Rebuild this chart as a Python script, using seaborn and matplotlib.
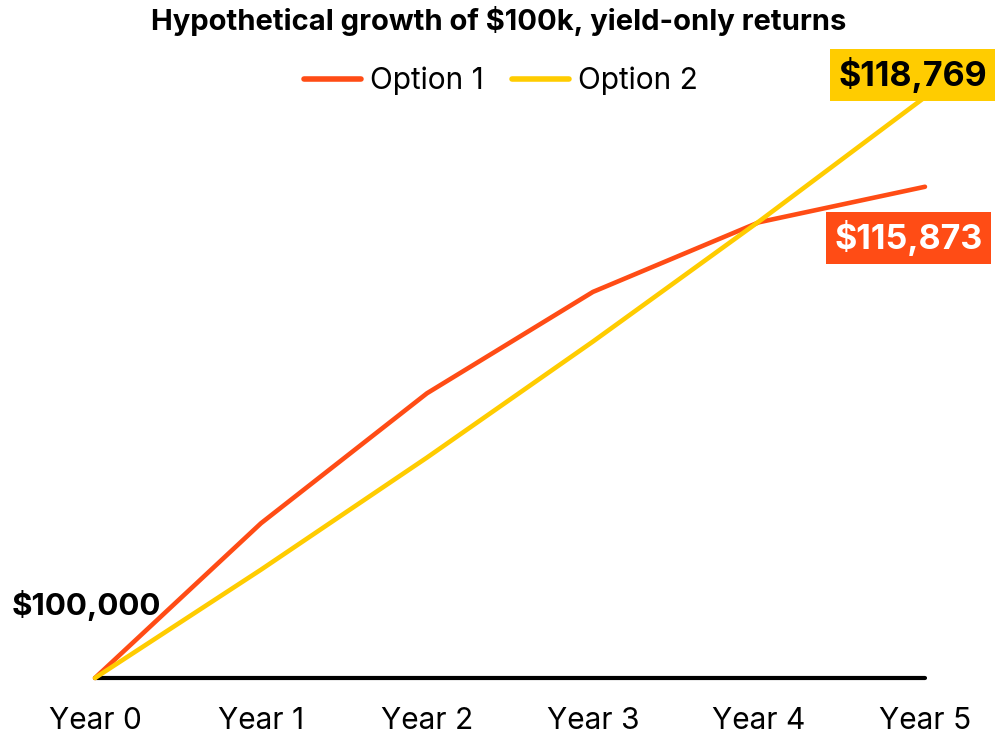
import numpy as np
import pandas as pd
import matplotlib
matplotlib.use("Agg")
import matplotlib.pyplot as plt
import seaborn as sns

years = ["Year 0", "Year 1", "Year 2", "Year 3", "Year 4", "Year 5"]
option1 = [100000, 105000, 109200, 112476, 114726, 115873]
option2 = [100000, 103500, 107123, 110872, 114752, 118769]
series_names = ["Option 1", "Option 2"]
colors = {"Option 1": "#FF4C15", "Option 2": "#FFCC00"}

df = pd.DataFrame({"step": list(range(len(years))) * 2,
                   "value": option1 + option2,
                   "series": [series_names[0]] * len(years) + [series_names[1]] * len(years)})

sns.set_theme(style="white")
plt.rcParams['font.family'] = ['Inter', 'DejaVu Sans']
plt.rcParams['text.color'] = 'black'
plt.rcParams['xtick.color'] = 'black'

fig = plt.figure(figsize=(10.03, 7.38), dpi=100)
ax = fig.add_axes([0.0947, 0.0813, 0.8275, 0.8387])

sns.lineplot(data=df, x="step", y="value", hue="series", palette=colors,
             linewidth=3.3, ax=ax, legend=True, clip_on=False)

ax.set_xlim(0, 5)
ax.set_ylim(100000, 120000)
ax.axhline(100000, color="black", linewidth=3, zorder=1, clip_on=False)
for s in ax.spines.values():
    s.set_visible(False)
ax.set_yticks([])
ax.set_xticks(range(len(years)))
ax.set_xticklabels(years, fontsize=21.5)
ax.tick_params(axis="x", length=0, pad=21)
ax.set_xlabel("")
ax.set_ylabel("")

leg = ax.legend(loc="center", bbox_to_anchor=(0.4995, 0.89), bbox_transform=fig.transFigure,
                ncol=2, frameon=False, fontsize=21.5, handlelength=1.9,
                handletextpad=0.3, columnspacing=0.95)
for line in leg.get_lines():
    line.set_linewidth(4)
    line.set_solid_capstyle("round")

fig.text(0.497, 0.972, "Hypothetical growth of $100k, yield-only returns",
         ha="center", va="center", fontsize=21, fontweight="bold")

ax.annotate(f"${option2[-1]:,}", xy=(5, option2[-1]), xytext=(-9, 16),
            textcoords="offset points", ha="center", va="center",
            fontsize=24.5, fontweight="bold", color="black",
            bbox=dict(boxstyle="square,pad=0.24", fc=colors["Option 2"], ec="none"))
ax.annotate(f"${option1[-1]:,}", xy=(5, option1[-1]), xytext=(-12, -37),
            textcoords="offset points", ha="center", va="center",
            fontsize=24.5, fontweight="bold", color="white",
            bbox=dict(boxstyle="square,pad=0.24", fc=colors["Option 1"], ec="none"))
ax.annotate(f"${option1[0]:,}", xy=(0, option1[0]), xytext=(-6.5, 52.5),
            textcoords="offset points", ha="center", va="center",
            fontsize=22.5, fontweight="bold", color="black")

fig.savefig("out.png", dpi=100)
